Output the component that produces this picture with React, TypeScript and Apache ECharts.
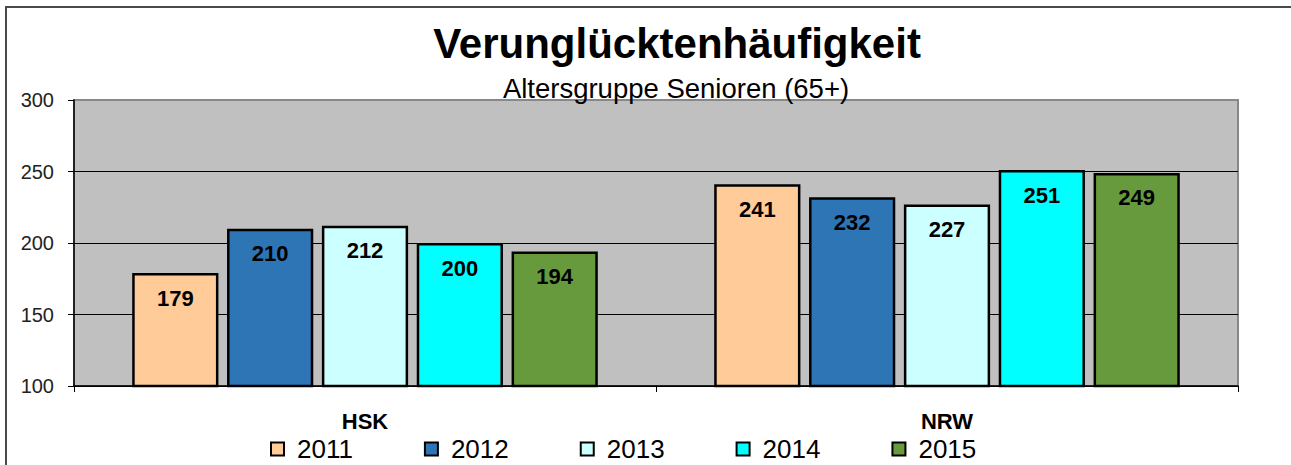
import React, { useEffect, useRef } from "react";
import * as echarts from "echarts";

const categories = ["HSK", "NRW"];
const years = ["2011", "2012", "2013", "2014", "2015"];
const values2011 = [179, 241];
const values2012 = [210, 232];
const values2013 = [212, 227];
const values2014 = [200, 251];
const values2015 = [194, 249];
const seriesValues = [values2011, values2012, values2013, values2014, values2015];
const colors = ["#FFCC99", "#2E75B6", "#CCFFFF", "#00FFFF", "#669A3C"];
const yTicks = { min: 100, max: 300, interval: 50 };

const FONT = "'Liberation Sans', Arial, sans-serif";

export default function App() {
  const ref = useRef<HTMLDivElement>(null);
  useEffect(() => {
    if (!ref.current) return;
    const chart = echarts.init(ref.current, undefined, { renderer: "svg" });
    chart.setOption({
      animation: false,
      backgroundColor: "#ffffff",
      textStyle: { fontFamily: FONT },
      graphic: [
        {
          type: "rect",
          shape: { x: 6, y: 7, width: 1320, height: 520 },
          style: { fill: "none", stroke: "#4a4a4a", lineWidth: 2 },
          z: 100,
        },
        {
          type: "text",
          x: 677,
          y: 43,
          style: {
            text: "Verunglücktenhäufigkeit",
            fontSize: 42,
            fontWeight: "bold",
            fontFamily: FONT,
            fill: "#000",
            textAlign: "center",
            textVerticalAlign: "middle",
          },
        },
        {
          type: "text",
          x: 676,
          y: 88,
          style: {
            text: "Altersgruppe Senioren (65+)",
            fontSize: 27.5,
            fontFamily: FONT,
            fill: "#000",
            textAlign: "center",
            textVerticalAlign: "middle",
          },
        },
      ],
      legend: {
        left: 270,
        top: 436,
        padding: 0,
        itemWidth: 13,
        itemHeight: 13,
        itemGap: 71,
        icon: "rect",
        data: years,
        textStyle: {
          fontSize: 26,
          lineHeight: 26,
          color: "#000",
          fontFamily: FONT,
          padding: [0, 0, 0, 8],
        },
      },
      grid: {
        left: 74,
        right: 53,
        top: 100,
        bottom: 79,
        show: true,
        backgroundColor: "#C0C0C0",
        borderColor: "#888888",
        borderWidth: 2,
      },
      xAxis: {
        type: "category",
        data: categories,
        axisLine: { show: true, lineStyle: { color: "#000", width: 1.5 } },
        axisTick: { show: true, length: 6, lineStyle: { color: "#000" } },
        axisLabel: { fontSize: 22, fontWeight: "bold", color: "#000", margin: 24, fontFamily: FONT },
      },
      yAxis: {
        type: "value",
        min: yTicks.min,
        max: yTicks.max,
        interval: yTicks.interval,
        axisLine: { show: true, lineStyle: { color: "#000", width: 1.5 } },
        axisTick: { show: true, length: 6, lineStyle: { color: "#000" } },
        axisLabel: { fontSize: 20, color: "#222", margin: 20, fontFamily: FONT },
        splitLine: { show: true, showMaxLine: false, lineStyle: { color: "#000", width: 1 } },
      },
      series: years.map((y, i) => ({
        name: y,
        type: "bar",
        data: seriesValues[i],
        barGap: "10%",
        barCategoryGap: "20%",
        itemStyle: { color: colors[i], borderColor: "#000", borderWidth: 2.5 },
        label: {
          show: true,
          position: "insideTop",
          distance: 14,
          fontSize: 22,
          fontWeight: "bold",
          color: "#000",
          fontFamily: FONT,
        },
      })),
    });
    return () => chart.dispose();
  }, []);
  return (
    <div
      ref={ref}
      style={{ position: "fixed", left: 0, top: 0, width: 1291, height: 465 }}
    />
  );
}
